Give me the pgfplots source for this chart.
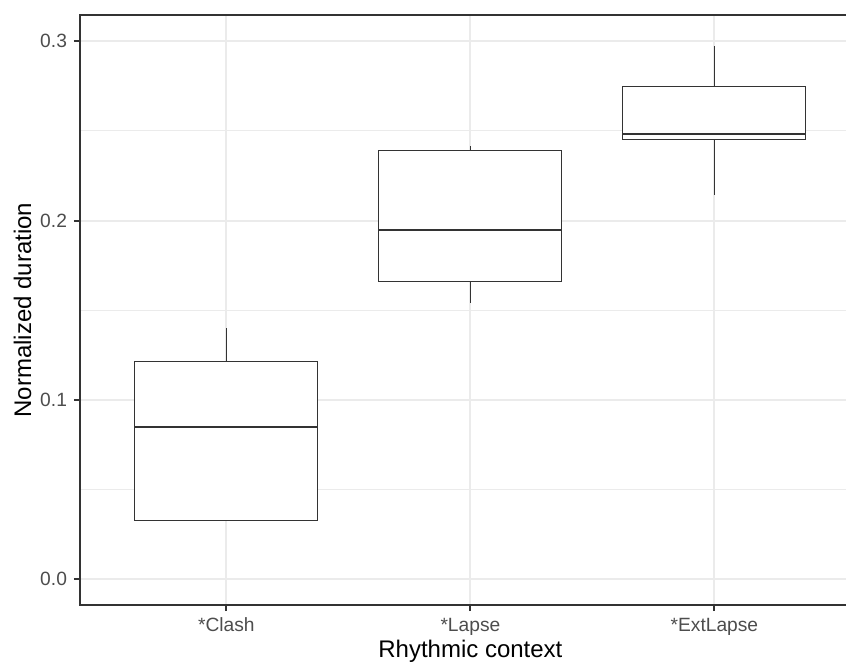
\documentclass[border=0pt]{standalone}
\usepackage{pgfplots}
\pgfplotsset{compat=1.18}
\usepgfplotslibrary{statistics}
\usepackage{fontspec}
\setmainfont{Liberation Sans}

\definecolor{grey20}{HTML}{333333}
\definecolor{grey30}{HTML}{4D4D4D}
\definecolor{grey92}{HTML}{EBEBEB}

\pgfplotsset{
  ggbox/.style={draw=grey20, line width=0.5pt, fill=white, mark=none, solid,
    boxplot/draw direction=y, boxplot/box extend=0.75, boxplot/whisker extend=0,
    boxplot/every median/.style={line width=1.1pt}},
}

\begin{document}
\begin{tikzpicture}
\begin{axis}[
  at={(0,0)}, anchor=south west,
  scale only axis, width=390.4pt, height=295pt,
  xmin=0.4, xmax=3.6,
  ymin=-0.0145, ymax=0.3147,
  xtick={1,2,3},
  xticklabels={*Clash,*Lapse,*ExtLapse},
  ytick={0,0.1,0.2,0.3},
  yticklabels={0.0,0.1,0.2,0.3},
  minor ytick={0.05,0.15,0.25},
  xtick pos=lower, ytick pos=lower,
  xmajorgrids, ymajorgrids, yminorgrids,
  major grid style={draw=grey92, line width=1pt},
  minor grid style={draw=grey92, line width=0.5pt},
  axis line style={draw=grey20, line width=1pt},
  tick align=outside,
  major tick length=3pt, minor tick length=0pt,
  tick style={draw=grey20, line width=1pt},
  tick label style={font=\fontsize{9.6}{11}\selectfont, text=grey30},
  xticklabel style={anchor=base, yshift=-10.3pt},
  yticklabel style={anchor=east},
  xlabel={Rhythmic context},
  ylabel={Normalized duration},
  every axis x label/.style={at={(axis cs:2,-0.0145)}, anchor=base, yshift=-26.3pt,
    font=\fontsize{12}{14}\selectfont, text=black},
  every axis y label/.style={at={(rel axis cs:0,0.5)}, rotate=90, anchor=center, yshift=28.75pt,
    font=\fontsize{12}{14}\selectfont, text=black},
]
% *Clash
\addplot+[ggbox, boxplot prepared={draw position=1,
  lower whisker=0.0328, lower quartile=0.0328, median=0.0850,
  upper quartile=0.1213, upper whisker=0.1399}] coordinates {};
% *Lapse
\addplot+[ggbox, boxplot prepared={draw position=2,
  lower whisker=0.1538, lower quartile=0.1661, median=0.1948,
  upper quartile=0.2390, upper whisker=0.2416}] coordinates {};
% *ExtLapse
\addplot+[ggbox, boxplot prepared={draw position=3,
  lower whisker=0.2145, lower quartile=0.2455, median=0.2483,
  upper quartile=0.2746, upper whisker=0.2974}] coordinates {};
\end{axis}
\pgfresetboundingbox
\path (-40pt,-29.5pt) rectangle (383pt,302.5pt);
\end{tikzpicture}
\end{document}
